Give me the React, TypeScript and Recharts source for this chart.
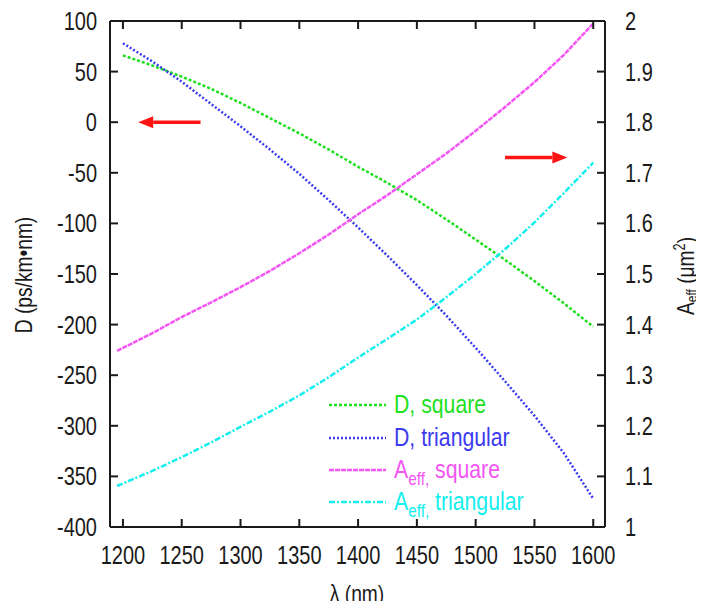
import { LineChart, Line, XAxis, YAxis, ReferenceLine } from "recharts";

// wavelength grid (nm) for the dispersion curves
const lambdaD = [1200, 1225, 1250, 1275, 1300, 1325, 1350, 1375, 1400, 1425, 1450, 1475, 1500, 1525, 1550, 1575, 1600];
const dSquare = [66, 56, 45, 33, 19, 4, -11, -27, -44, -60, -77, -96, -116, -136, -157, -179, -202];
const dTriangular = [78, 60, 40, 18, -4, -27, -51, -77, -104, -132, -161, -191, -223, -256, -290, -327, -372];

// wavelength grid (nm) for the effective area curves
const lambdaA = [1195, 1225, 1250, 1275, 1300, 1325, 1350, 1375, 1400, 1425, 1450, 1475, 1500, 1525, 1550, 1575, 1600];
const aSquare = [1.348, 1.383, 1.415, 1.444, 1.474, 1.506, 1.541, 1.578, 1.618, 1.656, 1.697, 1.738, 1.783, 1.83, 1.879, 1.933, 1.995];
const aTriangular = [1.081, 1.111, 1.138, 1.167, 1.198, 1.228, 1.26, 1.296, 1.335, 1.372, 1.41, 1.454, 1.5, 1.549, 1.602, 1.66, 1.72];

const xTicks = [1200, 1250, 1300, 1350, 1400, 1450, 1500, 1550, 1600];
const leftTicks = [100, 50, 0, -50, -100, -150, -200, -250, -300, -350, -400];
const rightTicks = [1, 1.1, 1.2, 1.3, 1.4, 1.5, 1.6, 1.7, 1.8, 1.9, 2];

const FONT = '"Liberation Sans", Arial, sans-serif';
const INK = "#1a1a1a";
const TICK_LEN = 8;
const PLOT_H = 506;
const SQUEEZE = 0.8; // the reference font is a narrow one

const GREEN = "#1ee01e";
const BLUE = "#3a3af0";
const PINK = "#f455f4";
const CYAN = "#14eeee";

const toPoints = (xs: number[], ys: number[]) => xs.map((x, i) => ({ lambda: x, v: ys[i] }));

function NarrowText({ x, y, anchor, children, size = 25, fill = INK, squeeze = SQUEEZE, rotate = 0, dy }: any) {
  return (
    <text
      transform={`translate(${x},${y}) rotate(${rotate}) scale(${squeeze},1)`}
      textAnchor={anchor}
      dy={dy}
      fontSize={size}
      fontFamily={FONT}
      fill={fill}
    >
      {children}
    </text>
  );
}

function LeftTick({ x, y, payload }: any) {
  const ax = x + 13;
  return (
    <g>
      <line x1={ax} x2={ax + TICK_LEN} y1={y} y2={y} stroke={INK} strokeWidth={2} />
      <NarrowText x={x} y={y} dy="0.36em" anchor="end">
        {payload.value}
      </NarrowText>
    </g>
  );
}

function RightTick({ x, y, payload }: any) {
  const ax = x - 20;
  return (
    <g>
      <line x1={ax} x2={ax - TICK_LEN} y1={y} y2={y} stroke={INK} strokeWidth={2} />
      <NarrowText x={x} y={y} dy="0.36em" anchor="start">
        {Number(Number(payload.value).toFixed(1)).toString()}
      </NarrowText>
    </g>
  );
}

function BottomTick({ x, y, payload }: any) {
  const ay = y - 18;
  return (
    <g>
      <line x1={x} x2={x} y1={ay} y2={ay - TICK_LEN} stroke={INK} strokeWidth={2} />
      <line x1={x} x2={x} y1={ay - PLOT_H} y2={ay - PLOT_H + TICK_LEN} stroke={INK} strokeWidth={2} />
      <NarrowText x={x} y={y + 10} dy="0.36em" anchor="middle">
        {payload.value}
      </NarrowText>
    </g>
  );
}

function Arrow(props: any) {
  const { x1, y1, x2, y2 } = props;
  const dir = x2 - x1 >= 0 ? 1 : -1;
  const headLen = 15;
  const half = 6;
  const bx = x2 - dir * headLen;
  return (
    <g>
      <line x1={x1} y1={y1} x2={bx} y2={y2} stroke="#ff1414" strokeWidth={3.5} />
      <polygon points={`${x2},${y2} ${bx},${y2 - half} ${bx},${y2 + half}`} fill="#ff1414" />
    </g>
  );
}

const legendRows = [
  { color: GREEN, dash: "3 2", main: "D, square", sub: "", rest: "" },
  { color: BLUE, dash: "2 2", main: "D, triangular", sub: "", rest: "" },
  { color: PINK, dash: "5 1", main: "A", sub: "eff,", rest: " square" },
  { color: CYAN, dash: "6 2 2 2", main: "A", sub: "eff,", rest: " triangular" },
];
const legendY = [405, 438, 470, 502];

export default function App() {
  return (
    <div style={{ position: "relative", width: 704, height: 609, margin: -8, background: "#fff" }}>
      <LineChart width={704} height={609} margin={{ top: 21, right: 0, bottom: 0, left: 0 }}>
        <XAxis
          dataKey="lambda"
          type="number"
          domain={[1189, 1610]}
          ticks={xTicks}
          allowDataOverflow
          height={82}
          tickSize={0}
          tickMargin={18}
          tick={<BottomTick />}
          axisLine={{ stroke: INK, strokeWidth: 2 }}
          tickLine={false}
        />
        <YAxis
          yAxisId="left"
          dataKey="v"
          domain={[-400, 100]}
          ticks={leftTicks}
          allowDataOverflow
          width={110}
          tickSize={0}
          tickMargin={13}
          tick={<LeftTick />}
          axisLine={{ stroke: INK, strokeWidth: 2 }}
          tickLine={false}
        />
        <YAxis
          yAxisId="right"
          orientation="right"
          dataKey="v"
          domain={[1, 2]}
          ticks={rightTicks}
          allowDataOverflow
          width={99}
          tickSize={0}
          tickMargin={20}
          tick={<RightTick />}
          axisLine={{ stroke: INK, strokeWidth: 2 }}
          tickLine={false}
        />
        <ReferenceLine yAxisId="left" y={100} stroke={INK} strokeWidth={2} />
        <Line
          yAxisId="left"
          data={toPoints(lambdaD, dSquare)}
          dataKey="v"
          type="linear"
          stroke={GREEN}
          strokeWidth={2.5}
          strokeDasharray="3 2"
          dot={false}
          isAnimationActive={false}
        />
        <Line
          yAxisId="left"
          data={toPoints(lambdaD, dTriangular)}
          dataKey="v"
          type="linear"
          stroke={BLUE}
          strokeWidth={2.5}
          strokeDasharray="2 2"
          dot={false}
          isAnimationActive={false}
        />
        <Line
          yAxisId="right"
          data={toPoints(lambdaA, aSquare)}
          dataKey="v"
          type="linear"
          stroke={PINK}
          strokeWidth={2.5}
          strokeDasharray="5 1"
          dot={false}
          isAnimationActive={false}
        />
        <Line
          yAxisId="right"
          data={toPoints(lambdaA, aTriangular)}
          dataKey="v"
          type="linear"
          stroke={CYAN}
          strokeWidth={2.5}
          strokeDasharray="6 2 2 2"
          dot={false}
          isAnimationActive={false}
        />
        <ReferenceLine yAxisId="left" segment={[{ x: 1266, y: 0 }, { x: 1213, y: 0 }]} shape={<Arrow />} />
        <ReferenceLine yAxisId="right" segment={[{ x: 1525, y: 1.73 }, { x: 1578, y: 1.73 }]} shape={<Arrow />} />
      </LineChart>
      <svg width={704} height={609} style={{ position: "absolute", left: 0, top: 0, pointerEvents: "none" }}>
        {legendRows.map((r, i) => (
          <g key={r.main + i}>
            <line x1={329} x2={386} y1={legendY[i]} y2={legendY[i]} stroke={r.color} strokeWidth={2.5} strokeDasharray={r.dash} />
            <NarrowText x={394} y={legendY[i] + 8} anchor="start" fill={r.color} squeeze={0.85}>
              {r.main}
              {r.sub ? (
                <>
                  <tspan dy={7} fontSize={18}>{r.sub}</tspan>
                  <tspan dy={-7}>{r.rest}</tspan>
                </>
              ) : null}
            </NarrowText>
          </g>
        ))}
        <NarrowText x={32} y={275} rotate={-90} anchor="middle" size={24}>
          D (ps/km•nm)
        </NarrowText>
        <NarrowText x={694} y={276} rotate={-90} anchor="middle" size={24}>
          A<tspan dy={3} fontSize={15}>eff</tspan>
          <tspan dy={-3}> (μm</tspan>
          <tspan dy={-9} fontSize={16}>2</tspan>
          <tspan dy={9}>)</tspan>
        </NarrowText>
        <NarrowText x={357} y={602} anchor="middle" size={24}>
          λ (nm)
        </NarrowText>
      </svg>
    </div>
  );
}
